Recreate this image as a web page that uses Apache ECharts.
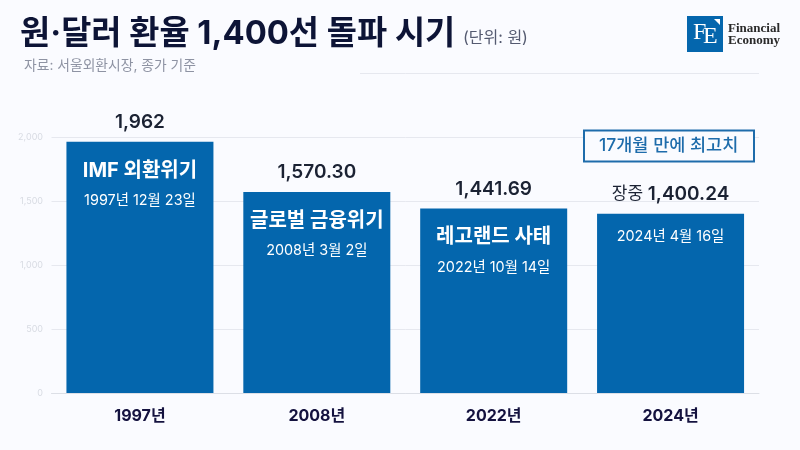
<!DOCTYPE html>
<html><head><meta charset="utf-8">
<style>html,body{margin:0;padding:0;background:#fafbff}#c{width:800px;height:450px}</style>
<script src="https://cdn.jsdelivr.net/npm/echarts@6/dist/echarts.min.js"></script>
</head><body><div id="c"></div>
<script>
const categories = ['1997년','2008년','2022년','2024년'];
const values = [1962,1570.30,1441.69,1400.24];
const valueLabels = ['1,962','1,570.30','1,441.69','1,400.24'];
const events = ['IMF 외환위기','글로벌 금융위기','레고랜드 사태',''];
const dates = ['1997년 12월 23일','2008년 3월 2일','2022년 10월 14일','2024년 4월 16일'];
const prefixes = ['','','','장중 '];
const KF = '"Inter","Noto Sans CJK KR",sans-serif';
const BG = '#fafbff', BLUE = '#0466ad';
const chart = echarts.init(document.getElementById('c'));
chart.setOption({
  backgroundColor: BG, animation: false,
  grid: {left: 51.5, right: 41, top: 73, bottom: 57},
  xAxis: {type:'category', data:categories, axisTick:{show:false},
    axisLine:{lineStyle:{color:'#dcdfe6',width:1}},
    axisLabel:{margin:15.5,fontFamily:KF,fontSize:16,fontWeight:700,color:'#14123f'}},
  yAxis: {type:'value', min:0, max:2500, interval:500,
    axisLine:{show:false}, axisTick:{show:false},
    splitLine:{lineStyle:{color:'#e6e8ef',width:1}},
    axisLabel:{margin:8.5,fontFamily:KF,fontSize:9,color:'#d8dbe3',padding:[2,0,0,0],
      formatter:v=>v===2500?'':v.toLocaleString('en-US')}},
  series: [
    {type:'bar', data:values, barWidth:147, barGap:'-100%', itemStyle:{color:BLUE}, z:2,
     label:{show:true, position:'top', distance:10, fontFamily:KF,
       formatter:p=>(prefixes[p.dataIndex]?'{p|'+prefixes[p.dataIndex]+'}':'')+'{v|'+valueLabels[p.dataIndex]+'}',
       rich:{v:{fontFamily:KF,fontSize:19,fontWeight:600,color:'#1b2233'},
             p:{fontFamily:KF,fontSize:17,fontWeight:400,color:'#1b2233'}}}},
    {type:'bar', data:values, barWidth:147, barGap:'-100%', itemStyle:{color:'transparent'}, z:3,
     label:{show:true, position:'insideTop', distance:11, fontFamily:KF, align:'center',
       formatter:p=>(events[p.dataIndex]?'{e|'+events[p.dataIndex]+'}\n':'')+'{d|'+dates[p.dataIndex]+'}',
       rich:{e:{fontFamily:KF,fontSize:20,fontWeight:700,color:'#fff',lineHeight:36,align:'center'},
             d:{fontFamily:KF,fontSize:14.4,fontWeight:400,color:'#fff',lineHeight:24,align:'center'}}}}
  ],
  graphic: [
    {type:'rect',z:5,shape:{x:0,y:66,width:360,height:14},style:{fill:BG}},
    {type:'text',z:6,left:20,top:18,style:{text:'원·달러 환율 1,400선 돌파 시기',font:'700 32.8px '+KF,fill:'#0d1436'}},
    {type:'text',z:6,left:463,top:30,style:{text:'(단위: 원)',font:'400 16px '+KF,fill:'#545a70'}},
    {type:'text',z:6,left:24,top:59,style:{text:'자료: 서울외환시장, 종가 기준',font:'400 13.8px '+KF,fill:'#8e93a3'}},
    {type:'rect',z:6,shape:{x:584,y:130.5,width:170,height:31},style:{fill:BG,stroke:'#1e6cab',lineWidth:2}},
    {type:'text',z:7,left:599,top:137,style:{text:'17개월 만에 최고치',font:'500 17.5px '+KF,fill:'#1e6cab'}},
    {type:'rect',z:6,shape:{x:687,y:16,width:36,height:36},style:{fill:BLUE}},
    {type:'text',z:7,left:693,top:21,style:{text:'F',font:'400 24px "Liberation Serif",serif',fill:'#fff'}},
    {type:'text',z:7,left:703,top:25,style:{text:'E',font:'400 24px "Liberation Serif",serif',fill:'#fff'}},
    {type:'polygon',z:7,shape:{points:[[714,19],[720,19],[720,25]]},style:{fill:'#fff'}},
    {type:'text',z:7,left:728,top:22,style:{text:'Financial',font:'700 13px "Liberation Serif",serif',fill:'#2a2a2a'}},
    {type:'text',z:7,left:728,top:34,style:{text:'Economy',font:'700 13px "Liberation Serif",serif',fill:'#2a2a2a'}}
  ]
});
</script></body></html>
